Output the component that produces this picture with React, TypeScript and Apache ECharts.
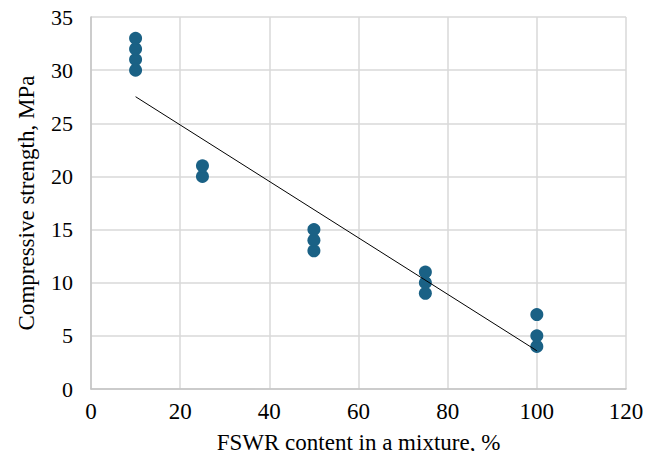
import React, { useEffect, useRef } from "react";
import * as echarts from "echarts";

const fswrContent = [10, 10, 10, 10, 25, 25, 50, 50, 50, 75, 75, 75, 100, 100, 100];
const strength = [30, 31, 32, 33, 20, 21, 13, 14, 15, 9, 10, 11, 4, 5, 7];
const trendX = [10, 100];
const trendY = [27.5, 3.6];
const xTickLabels = [0, 20, 40, 60, 80, 100, 120];
const yTickLabels = [0, 5, 10, 15, 20, 25, 30, 35];

export default function App() {
  const ref = useRef<HTMLDivElement>(null);
  useEffect(() => {
    const chart = echarts.init(ref.current!, null, { renderer: "svg" });
    const font = "Times New Roman";
    chart.setOption({
      animation: false,
      backgroundColor: "#ffffff",
      textStyle: { fontFamily: font },
      grid: {
        left: 83,
        right: 25,
        top: 9,
        bottom: 62,
        containLabel: false,
        outerBoundsMode: "none",
      },
      xAxis: {
        type: "value",
        min: xTickLabels[0],
        max: xTickLabels[xTickLabels.length - 1],
        interval: xTickLabels[1] - xTickLabels[0],
        name: "FSWR content in a mixture, %",
        nameLocation: "middle",
        nameGap: 42,
        nameMoveOverlap: false,
        nameTextStyle: { fontFamily: font, fontSize: 23, color: "#000" },
        axisLine: { show: true, lineStyle: { color: "#c4c4c4", width: 1.5 } },
        axisTick: { show: false },
        axisLabel: { show: false },
        splitLine: { show: true, lineStyle: { color: "#d9d9d9", width: 1.5 } },
      },
      yAxis: {
        type: "value",
        min: yTickLabels[0],
        max: yTickLabels[yTickLabels.length - 1],
        interval: yTickLabels[1] - yTickLabels[0],
        name: "Compressive strength, MPa",
        nameLocation: "middle",
        nameGap: 53,
        nameMoveOverlap: false,
        nameTextStyle: { fontFamily: font, fontSize: 23, color: "#000" },
        axisLine: { show: true, lineStyle: { color: "#c4c4c4", width: 1.5 } },
        axisTick: { show: false },
        axisLabel: { show: false },
        splitLine: { show: true, lineStyle: { color: "#d9d9d9", width: 1.5 } },
      },
      series: [
        {
          type: "line",
          data: trendX.map((x, i) => [x, trendY[i]]),
          symbol: "none",
          lineStyle: { color: "#000", width: 1 },
          z: 3,
        },
        {
          type: "scatter",
          data: fswrContent.map((x, i) => [x, strength[i]]),
          symbol: "circle",
          symbolSize: 13,
          itemStyle: { color: "#1a6185", opacity: 1 },
          z: 2,
        },
      ],
    });
    const y0 = chart.convertToPixel({ yAxisIndex: 0 }, yTickLabels[0]) as number;
    const x0 = chart.convertToPixel({ xAxisIndex: 0 }, xTickLabels[0]) as number;
    const labels: any[] = [];
    xTickLabels.forEach((v) => {
      labels.push({
        type: "text",
        x: chart.convertToPixel({ xAxisIndex: 0 }, v) as number,
        y: y0 + 22,
        style: {
          text: String(v),
          fontFamily: font,
          fontSize: 23,
          fill: "#000",
          align: "center",
          verticalAlign: "middle",
        },
      });
    });
    yTickLabels.forEach((v) => {
      labels.push({
        type: "text",
        x: x0 - 18,
        y: chart.convertToPixel({ yAxisIndex: 0 }, v) as number,
        style: {
          text: String(v),
          fontFamily: font,
          fontSize: 22,
          fill: "#000",
          align: "right",
          verticalAlign: "middle",
        },
      });
    });
    chart.setOption({ graphic: labels });
    return () => chart.dispose();
  }, []);
  return <div ref={ref} style={{ width: 643, height: 443 }} />;
}
